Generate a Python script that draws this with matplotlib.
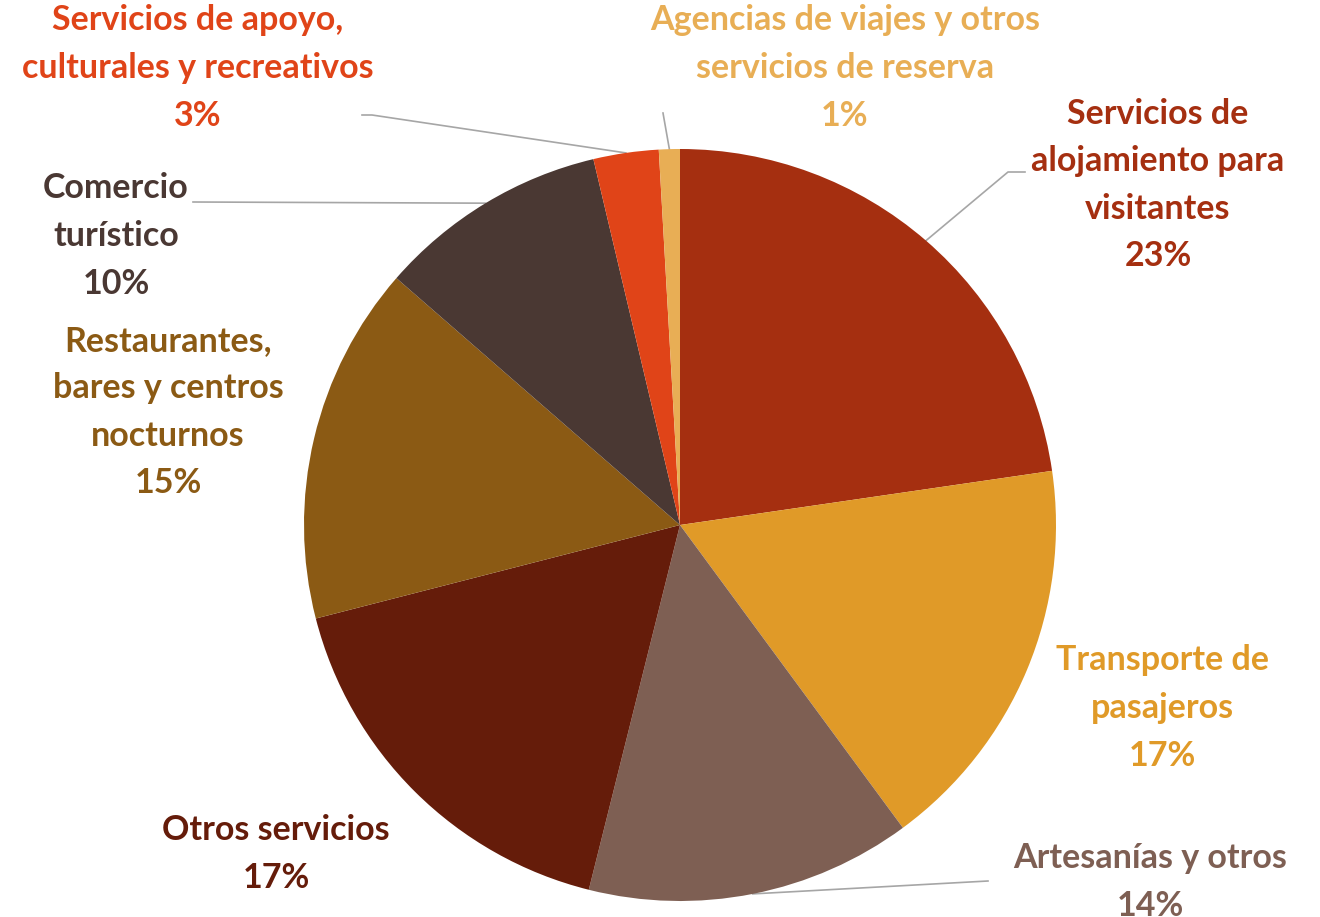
import numpy as np
import matplotlib.pyplot as plt

# -----------------------------
# Data
# -----------------------------
categories = [
    "Servicios de\nalojamiento para\nvisitantes",
    "Transporte de\npasajeros",
    "Artesanías y otros",
    "Otros servicios",
    "Restaurantes,\nbares y centros\nnocturnos",
    "Comercio\nturístico",
    "Servicios de apoyo,\nculturales y recreativos",
    "Agencias de viajes y otros\nservicios de reserva",
]
shares = [22.7, 17.2, 14.0, 17.1, 15.4, 9.9, 2.8, 0.9]
slice_colors = ["#A52F10", "#E09A28", "#7E5F53", "#651C0A",
                "#8B5A14", "#4A3833", "#E04418", "#E8AE55"]

# -----------------------------
# Layout (pixel coords, y measured from top)
# -----------------------------
W, H = 1320, 917
cx, cy, R = 680, 525, 376

# label centre positions
label_pos = [(1158, 185), (1162, 708), (1150, 882), (276, 854),
             (168, 412), (116, 236), (198, 68), (845, 68)]
# leader line start points (None = no line)
leader_start = [[(1025, 172), (1008, 172)], None, [(988, 881)], None,
                None, [(193, 202)], [(362, 115), (372, 115)], [(663, 113)]]

fig = plt.figure(figsize=(W / 100, H / 100), dpi=100)
ax = fig.add_axes([0, 0, 1, 1])

wedges, _ = ax.pie(shares, colors=slice_colors, startangle=90, counterclock=False,
                   center=(cx, H - cy), radius=R,
                   wedgeprops=dict(linewidth=0))

ax.set_xlim(0, W)
ax.set_ylim(0, H)
ax.set_aspect('equal')
ax.axis('off')

for i, (w, name, val) in enumerate(zip(wedges, categories, shares)):
    lx, ly = label_pos[i]
    ax.text(lx, H - ly, f"{name}\n{round(val)}%", ha='center', va='center',
            color=slice_colors[i], fontsize=24.5, fontweight='bold',
            family='Lato', linespacing=1.6)
    if leader_start[i] is not None:
        mid = np.deg2rad((w.theta1 + w.theta2) / 2)
        ex, ey = cx + R * np.cos(mid), (H - cy) + R * np.sin(mid)
        xs = [p[0] for p in leader_start[i]] + [ex]
        ys = [H - p[1] for p in leader_start[i]] + [ey]
        ax.plot(xs, ys, color='#A6A6A6', lw=1.2, zorder=0.5)

fig.savefig("out.png", dpi=100)
